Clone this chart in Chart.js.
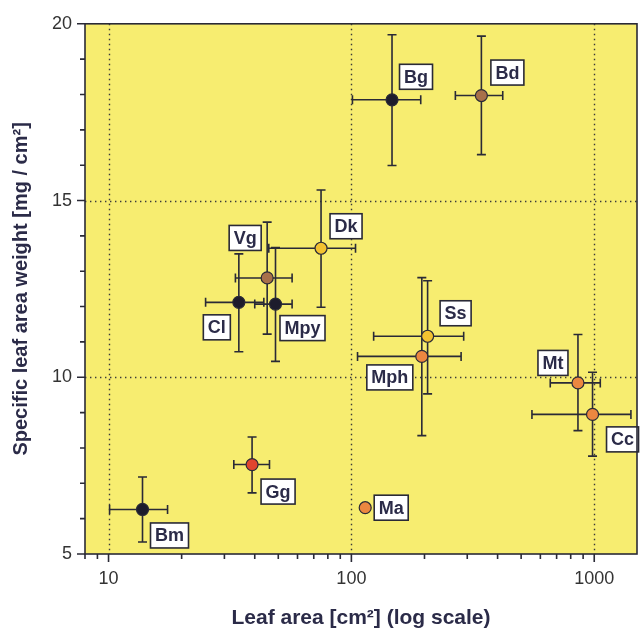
<!DOCTYPE html>
<html>
<head>
<meta charset="utf-8">
<title>Leaf area vs specific leaf area weight</title>
<script src="https://cdn.jsdelivr.net/npm/chart.js@4.4.1/dist/chart.umd.min.js"></script>
<style>
  html, body { margin: 0; padding: 0; background: #ffffff; }
  #wrap { width: 640px; height: 631px; }
  canvas { display: block; }
</style>
</head>
<body>
<div id="wrap"><canvas id="slaChart" width="640" height="631"></canvas></div>
<script>
// species codes and their means (leaf area in cm², weight in mg/cm²)
const species = ['Bg', 'Bd', 'Dk', 'Vg', 'Cl', 'Mpy', 'Ss', 'Mph', 'Mt', 'Cc', 'Ma', 'Gg', 'Bm'];
const leafArea = [147, 343, 75, 45, 34.4, 48.7, 206, 195, 857, 984, 114, 39, 13.8];
const leafWeight = [17.85, 17.97, 13.65, 12.81, 12.12, 12.07, 11.16, 10.59, 9.84, 8.95, 6.31, 7.53, 6.26];

// error bar ends (null = no bar)
const areaLow = [101, 268, 45.7, 33.3, 25.1, 40.0, 123.5, 106, 659, 554, null, 32.8, 10.1];
const areaHigh = [193, 420, 104, 57, 43.6, 57, 290, 283, 1059, 1416, null, 46, 17.5];
const weightLow = [15.99, 16.30, 11.98, 11.22, 10.72, 10.45, 9.53, 8.35, 8.49, 7.77, null, 6.73, 5.34];
const weightHigh = [19.69, 19.65, 15.30, 14.39, 13.49, 13.67, 12.73, 12.82, 11.21, 10.14, null, 8.31, 7.18];

// axis ticks
const xMajorTicks = [10, 100, 1000];
const xMinorTicks = [8, 9, 20, 30, 40, 50, 60, 70, 80, 90, 200, 300, 400, 500, 600, 700, 800, 900];
const yMajorTicks = [5, 10, 15, 20];
const yMinorTicks = [6, 7, 8, 9, 11, 12, 13, 14, 16, 17, 18, 19];

// marker fill per species
const DARK = '#1d1c2c', BROWN = '#a8704a', YELLOW = '#f3c230', ORANGE = '#ec8740', RED = '#e0452f';
const pointColors = [DARK, BROWN, YELLOW, BROWN, DARK, DARK, YELLOW, ORANGE, ORANGE, ORANGE, ORANGE, RED, DARK];

// label box centre relative to its point, px
const labelOffsets = {
  Bg: [24, -23], Bd: [26, -23], Dk: [25, -22], Vg: [-22, -40], Cl: [-22, 25],
  Mpy: [27, 24], Ss: [28, -23], Mph: [-32, 21], Mt: [-25, -20], Cc: [30, 25],
  Ma: [26, 0], Gg: [26, 27], Bm: [27, 26]
};

const INK = '#2a2a36';
const TEXT = '#2b2b48';
const FONT = '"Liberation Sans", Arial, sans-serif';

const plotDecor = {
  id: 'plotDecor',
  beforeDraw(chart) {
    const { ctx, chartArea: a } = chart;
    ctx.save();
    ctx.fillStyle = '#f7ed70';
    ctx.fillRect(a.left, a.top, a.right - a.left, a.bottom - a.top);
    ctx.restore();
  },
  beforeDatasetsDraw(chart) {
    const { ctx, chartArea: a, scales: { x, y } } = chart;
    ctx.save();
    // dotted grid
    ctx.strokeStyle = '#3a3a3a';
    ctx.lineWidth = 1.4;
    ctx.setLineDash([1.4, 3.6]);
    xMajorTicks.forEach(v => {
      const px = Math.round(x.getPixelForValue(v)) + 0.5;
      ctx.beginPath(); ctx.moveTo(px, a.top); ctx.lineTo(px, a.bottom); ctx.stroke();
    });
    [10, 15].forEach(v => {
      const py = Math.round(y.getPixelForValue(v)) + 0.5;
      ctx.beginPath(); ctx.moveTo(a.left, py); ctx.lineTo(a.right, py); ctx.stroke();
    });
    ctx.setLineDash([]);

    // error bars
    ctx.strokeStyle = INK;
    ctx.lineWidth = 1.6;
    const cap = 4.5;
    species.forEach((s, i) => {
      const cx = x.getPixelForValue(leafArea[i]);
      const cy = y.getPixelForValue(leafWeight[i]);
      if (areaLow[i] != null) {
        const x0 = x.getPixelForValue(areaLow[i]);
        const x1 = x.getPixelForValue(areaHigh[i]);
        ctx.beginPath();
        ctx.moveTo(x0, cy); ctx.lineTo(x1, cy);
        ctx.moveTo(x0, cy - cap); ctx.lineTo(x0, cy + cap);
        ctx.moveTo(x1, cy - cap); ctx.lineTo(x1, cy + cap);
        ctx.stroke();
      }
      if (weightLow[i] != null) {
        const y0 = y.getPixelForValue(weightLow[i]);
        const y1 = y.getPixelForValue(weightHigh[i]);
        ctx.beginPath();
        ctx.moveTo(cx, y0); ctx.lineTo(cx, y1);
        ctx.moveTo(cx - cap, y0); ctx.lineTo(cx + cap, y0);
        ctx.moveTo(cx - cap, y1); ctx.lineTo(cx + cap, y1);
        ctx.stroke();
      }
    });
    ctx.restore();
  },
  afterDatasetsDraw(chart) {
    const { ctx, scales: { x, y } } = chart;
    ctx.save();
    ctx.font = 'bold 18px ' + FONT;
    ctx.textAlign = 'center';
    ctx.textBaseline = 'middle';
    species.forEach((s, i) => {
      const [dx, dy] = labelOffsets[s];
      const cx = x.getPixelForValue(leafArea[i]) + dx;
      const cy = y.getPixelForValue(leafWeight[i]) + dy;
      const w = ctx.measureText(s).width + 9;
      const h = 25;
      ctx.fillStyle = '#ffffff';
      ctx.fillRect(cx - w / 2, cy - h / 2, w, h);
      ctx.strokeStyle = INK;
      ctx.lineWidth = 1.6;
      ctx.strokeRect(cx - w / 2, cy - h / 2, w, h);
      ctx.fillStyle = TEXT;
      ctx.fillText(s, cx, cy + 1);
    });
    ctx.restore();
  },
  afterDraw(chart) {
    const { ctx, chartArea: a, scales: { x, y } } = chart;
    ctx.save();
    ctx.strokeStyle = INK;
    ctx.lineWidth = 1.6;
    // tick marks
    ctx.beginPath();
    xMajorTicks.concat(xMinorTicks).forEach(v => {
      const px = x.getPixelForValue(v);
      const len = xMajorTicks.includes(v) ? 8 : 5;
      ctx.moveTo(px, a.bottom); ctx.lineTo(px, a.bottom + len);
    });
    yMajorTicks.concat(yMinorTicks).forEach(v => {
      const py = y.getPixelForValue(v);
      const len = yMajorTicks.includes(v) ? 8 : 5;
      ctx.moveTo(a.left, py); ctx.lineTo(a.left - len, py);
    });
    ctx.stroke();
    // frame
    ctx.strokeRect(a.left, a.top, a.right - a.left, a.bottom - a.top);
    ctx.restore();
  }
};

new Chart(document.getElementById('slaChart'), {
  type: 'scatter',
  data: {
    datasets: [{
      label: 'Species',
      data: species.map((s, i) => ({ x: leafArea[i], y: leafWeight[i] })),
      backgroundColor: pointColors,
      borderColor: INK,
      borderWidth: 1.2,
      pointRadius: 6,
      pointHoverRadius: 6
    }]
  },
  options: {
    responsive: false,
    animation: false,
    events: [],
    // fixed plot frame: 85..637 x 22..554
    layout: { autoPadding: false, padding: { top: 22, right: 3, left: 0, bottom: 0 } },
    plugins: { legend: { display: false }, tooltip: { enabled: false } },
    scales: {
      x: {
        type: 'logarithmic',
        position: 'bottom',
        min: 8,
        max: 1500,
        afterBuildTicks: scale => {
          scale.ticks = xMajorTicks.map(v => ({ value: v, major: true }));
        },
        afterFit: scale => {
          scale.height = 77;
          scale.paddingLeft = 0;
          scale.paddingRight = 0;
        },
        grid: { display: false, drawTicks: false },
        border: { display: false },
        ticks: {
          autoSkip: false,
          maxRotation: 0,
          padding: 14,
          color: '#333333',
          font: { family: FONT, size: 18 },
          callback: v => String(v)
        },
        title: {
          display: true,
          text: 'Leaf area [cm²] (log scale)',
          color: TEXT,
          padding: { top: 0, bottom: 0 },
          font: { family: FONT, size: 21, weight: 'bold' }
        }
      },
      y: {
        min: 5,
        max: 20,
        afterBuildTicks: scale => {
          scale.ticks = yMajorTicks.map(v => ({ value: v }));
        },
        afterFit: scale => { scale.width = 85; },
        grid: { display: false, drawTicks: false },
        border: { display: false },
        ticks: {
          padding: 13,
          color: '#333333',
          font: { family: FONT, size: 18 }
        },
        title: {
          display: true,
          text: 'Specific leaf area weight [mg / cm²]',
          color: TEXT,
          padding: { top: 9, bottom: 0 },
          font: { family: FONT, size: 20, weight: 'bold' }
        }
      }
    }
  },
  plugins: [plotDecor]
});
</script>
</body>
</html>
